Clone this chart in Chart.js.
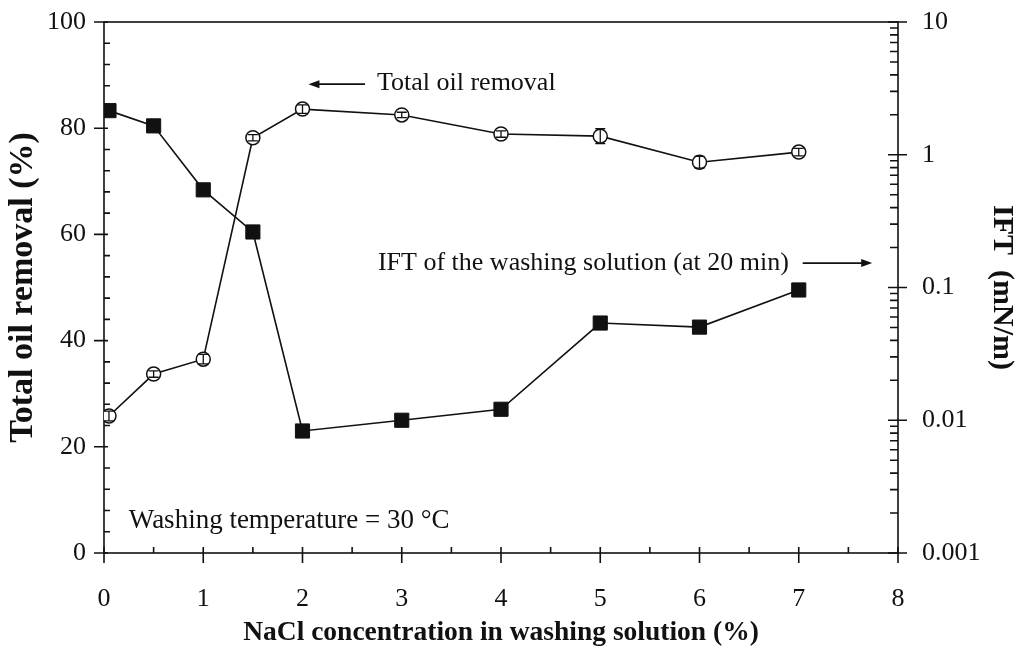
<!DOCTYPE html>
<html>
<head>
<meta charset="utf-8">
<script src="https://cdn.jsdelivr.net/npm/chart.js@4.4.1/dist/chart.umd.min.js"></script>
<style>
  html, body { margin: 0; padding: 0; background: #fff; }
  #wrap { width: 1017px; height: 650px; position: relative; }
</style>
</head>
<body>
<div id="wrap"><canvas id="c"></canvas></div>
<script>
// NaCl concentration (%) in the washing solution
const nacl = [0.05, 0.5, 1, 1.5, 2, 3, 4, 5, 6, 7];
// Total oil removal (%) and its error
const oilRemoval = [25.8, 33.7, 36.5, 78.2, 83.6, 82.5, 78.9, 78.5, 73.6, 75.5];
const oilRemovalErr = [0.9, 0.6, 0.9, 0.6, 0.8, 0.5, 0.6, 1.4, 1.1, 0.7];
// Interfacial tension of the washing solution at 20 min (mN/m)
const ift = [2.15, 1.65, 0.544, 0.262, 0.0083, 0.0100, 0.0121, 0.054, 0.0503, 0.0958];

// Axis ticks
const xTicks = [0, 1, 2, 3, 4, 5, 6, 7, 8];
const oilTicks = [0, 20, 40, 60, 80, 100];
const iftDecades = [0.001, 0.01, 0.1, 1, 10];

const FONT = '"Liberation Serif", "Times New Roman", Times, serif';
const INK = '#111';

// Box around the plot plus major/minor tick marks on all three axes
const frameTicks = {
  id: 'frameTicks',
  beforeDatasetsDraw(chart) {
    const { ctx, chartArea: a, scales } = chart;
    const { x, y, y2 } = scales;
    ctx.save();
    ctx.strokeStyle = INK;
    ctx.lineWidth = 1.6;
    ctx.strokeRect(a.left, a.top, a.right - a.left, a.bottom - a.top);
    ctx.beginPath();
    // x: major ticks cross the axis, half-step minors point inward
    xTicks.forEach(v => {
      const p = x.getPixelForValue(v);
      ctx.moveTo(p, a.bottom - 6); ctx.lineTo(p, a.bottom + 10);
    });
    for (let i = 0; i < xTicks.length - 1; i++) {
      const p = x.getPixelForValue((xTicks[i] + xTicks[i + 1]) / 2);
      ctx.moveTo(p, a.bottom - 6); ctx.lineTo(p, a.bottom);
    }
    // left: majors outward, four minors per interval inward
    oilTicks.forEach(v => {
      const p = y.getPixelForValue(v);
      ctx.moveTo(a.left - 10, p); ctx.lineTo(a.left + 4, p);
    });
    for (let i = 0; i < oilTicks.length - 1; i++) {
      const step = (oilTicks[i + 1] - oilTicks[i]) / 5;
      for (let k = 1; k < 5; k++) {
        const p = y.getPixelForValue(oilTicks[i] + k * step);
        ctx.moveTo(a.left, p); ctx.lineTo(a.left + 6, p);
      }
    }
    // right: log decades cross the axis, 2..9 minors inward
    iftDecades.forEach(v => {
      const p = y2.getPixelForValue(v);
      ctx.moveTo(a.right - 10, p); ctx.lineTo(a.right + 9, p);
    });
    for (let i = 0; i < iftDecades.length - 1; i++) {
      for (let k = 2; k <= 9; k++) {
        const p = y2.getPixelForValue(iftDecades[i] * k);
        ctx.moveTo(a.right - 8, p); ctx.lineTo(a.right, p);
      }
    }
    ctx.stroke();
    ctx.restore();
  }
};

// Error bars on the oil-removal points
const errorBars = {
  id: 'errorBars',
  afterDatasetsDraw(chart) {
    const { ctx, scales: { x, y } } = chart;
    ctx.save();
    ctx.strokeStyle = INK;
    ctx.lineWidth = 1.3;
    ctx.beginPath();
    nacl.forEach((c, i) => {
      const px = x.getPixelForValue(c);
      const hi = y.getPixelForValue(oilRemoval[i] + oilRemovalErr[i]);
      const lo = y.getPixelForValue(oilRemoval[i] - oilRemovalErr[i]);
      ctx.moveTo(px, hi); ctx.lineTo(px, lo);
      ctx.moveTo(px - 5, hi); ctx.lineTo(px + 5, hi);
      ctx.moveTo(px - 5, lo); ctx.lineTo(px + 5, lo);
    });
    ctx.stroke();
    ctx.restore();
  }
};

function arrow(ctx, x0, y0, x1, y1) {
  const ang = Math.atan2(y1 - y0, x1 - x0);
  const len = 11, half = 4;
  ctx.beginPath();
  ctx.moveTo(x0, y0);
  ctx.lineTo(x1 - Math.cos(ang) * len * 0.8, y1 - Math.sin(ang) * len * 0.8);
  ctx.stroke();
  ctx.beginPath();
  ctx.moveTo(x1, y1);
  ctx.lineTo(x1 - Math.cos(ang) * len - Math.sin(ang) * half, y1 - Math.sin(ang) * len + Math.cos(ang) * half);
  ctx.lineTo(x1 - Math.cos(ang) * len + Math.sin(ang) * half, y1 - Math.sin(ang) * len - Math.cos(ang) * half);
  ctx.closePath();
  ctx.fill();
}

// Series captions, arrows and the temperature note
const notes = {
  id: 'notes',
  afterDraw(chart) {
    const { ctx, scales: { x, y } } = chart;
    ctx.save();
    ctx.fillStyle = INK;
    ctx.strokeStyle = INK;
    ctx.lineWidth = 1.7;
    ctx.font = '26px ' + FONT;
    ctx.textAlign = 'left';
    ctx.textBaseline = 'alphabetic';
    ctx.fillText('Total oil removal', x.getPixelForValue(2.75), y.getPixelForValue(87.2));
    arrow(ctx, x.getPixelForValue(2.63), y.getPixelForValue(88.3), x.getPixelForValue(2.06), y.getPixelForValue(88.3));
    ctx.fillText('IFT of the washing solution (at 20 min)', x.getPixelForValue(2.76), y.getPixelForValue(53.3));
    arrow(ctx, x.getPixelForValue(7.04), y.getPixelForValue(54.6), x.getPixelForValue(7.74), y.getPixelForValue(54.6));
    ctx.font = '27px ' + FONT;
    ctx.fillText('Washing temperature = 30 \u00B0C', x.getPixelForValue(0.25), y.getPixelForValue(4.7));
    ctx.restore();
  }
};

// Fix each axis box so the plot area sits where it should, with no label overhang padding
function fixBox(size, horizontal) {
  return s => {
    if (horizontal) s.height = size; else s.width = size;
    s.paddingTop = 0; s.paddingBottom = 0; s.paddingLeft = 0; s.paddingRight = 0;
  };
}

const tickFont = { family: FONT, size: 26, lineHeight: 1 };

new Chart(document.getElementById('c'), {
  type: 'line',
  data: {
    datasets: [
      {
        label: 'IFT of the washing solution (at 20 min)',
        data: nacl.map((c, i) => ({ x: c, y: ift[i] })),
        yAxisID: 'y2',
        borderColor: INK,
        borderWidth: 1.6,
        tension: 0,
        fill: false,
        pointStyle: 'rect',
        pointRadius: 10,
        pointBackgroundColor: INK,
        pointBorderColor: INK,
        pointBorderWidth: 1
      },
      {
        label: 'Total oil removal',
        data: nacl.map((c, i) => ({ x: c, y: oilRemoval[i] })),
        yAxisID: 'y',
        borderColor: INK,
        borderWidth: 1.6,
        tension: 0,
        fill: false,
        pointStyle: 'circle',
        pointRadius: 7,
        pointBackgroundColor: '#fff',
        pointBorderColor: INK,
        pointBorderWidth: 1.5
      }
    ]
  },
  options: {
    responsive: true,
    maintainAspectRatio: false,
    animation: false,
    layout: { padding: { top: 22, left: 0, right: 0, bottom: 0 } },
    plugins: { legend: { display: false }, tooltip: { enabled: false } },
    scales: {
      x: {
        type: 'linear', position: 'bottom', min: 0, max: 8,
        afterBuildTicks: s => { s.ticks = xTicks.map(v => ({ value: v })); },
        ticks: { font: tickFont, color: INK, padding: 33, maxRotation: 0, autoSkip: false },
        grid: { display: false, drawTicks: false },
        border: { display: false },
        title: {
          display: true, text: 'NaCl concentration in washing solution (%)',
          font: { family: FONT, size: 27.5, weight: 'bold', lineHeight: 1 }, color: INK,
          padding: { top: 0, bottom: 3.5 }
        },
        afterFit: fixBox(97, true)
      },
      y: {
        type: 'linear', position: 'left', min: 0, max: 100,
        afterBuildTicks: s => { s.ticks = oilTicks.map(v => ({ value: v })); },
        ticks: { font: tickFont, color: INK, padding: 18, autoSkip: false },
        grid: { display: false, drawTicks: false },
        border: { display: false },
        title: {
          display: true, text: 'Total oil removal (%)',
          font: { family: FONT, size: 34, weight: 'bold', lineHeight: 1 }, color: INK,
          padding: { top: 6, bottom: 0 }
        },
        afterFit: fixBox(104, false)
      },
      y2: {
        type: 'logarithmic', position: 'right', min: 0.001, max: 10,
        afterBuildTicks: s => { s.ticks = iftDecades.map(v => ({ value: v })); },
        ticks: { font: tickFont, color: INK, padding: 24, autoSkip: false, callback: v => String(v) },
        grid: { display: false, drawTicks: false },
        border: { display: false },
        title: {
          display: true, text: 'IFT  (mN/m)',
          font: { family: FONT, size: 30, weight: 'bold', lineHeight: 1 }, color: INK,
          padding: { top: 0, bottom: 0 }
        },
        afterFit: fixBox(119, false)
      }
    }
  },
  plugins: [frameTicks, errorBars, notes]
});
</script>
</body>
</html>
